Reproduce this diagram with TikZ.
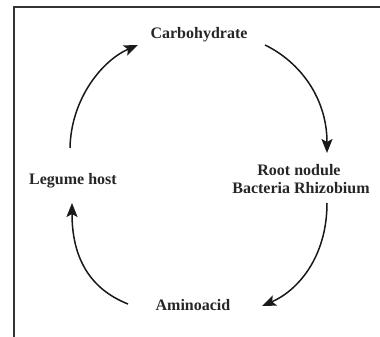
\documentclass[tikz,border=0pt]{standalone}
\usepackage{fontspec}
\setmainfont{Liberation Serif}
\usetikzlibrary{arrows.meta,calc}
\begin{document}
\begin{tikzpicture}[x=1pt,y=-1pt,
  lbl/.style={anchor=base,inner sep=0pt,font=\fontsize{16}{17}\selectfont\bfseries,text=black!85},
  arr/.style={line width=1.5pt,-{Stealth[length=14pt,width=11pt,inset=3pt]},black!90},
  frame/.style={line width=1.8pt,black!80}]
\useasboundingbox[fill=white] (0,0) rectangle (380,337);
\draw[frame] (14,337) -- (14,7) -- (380,7);
\node[lbl] (carb) at (199,38) {Carbohydrate};
\node[lbl] (legume) at (73,184) {Legume host};
\node[lbl] (root1) at (299,175) {Root nodule};
\node[lbl] (root2) at (301,193) {Bacteria Rhizobium};
\node[lbl] (amino) at (193,310) {Aminoacid};
\draw[arr] ($(legume.base)+(-3,-36)$) .. controls +(1,-50) and +(-35,15) .. ($(carb.base)+(-61,7)$);
\draw[arr] ($(carb.base)+(66,7)$) .. controls +(35,17) and +(0,-55) .. ($(root1.base)+(28,-22)$);
\draw[arr] ($(root2.base)+(26,10)$) .. controls +(0,55) and +(35,-15) .. ($(amino.base)+(69,-4)$);
\draw[arr] ($(amino.base)+(-65,-6)$) .. controls +(-38,-15) and +(0,55) .. ($(legume.base)+(-1,19)$);
\end{tikzpicture}
\end{document}
